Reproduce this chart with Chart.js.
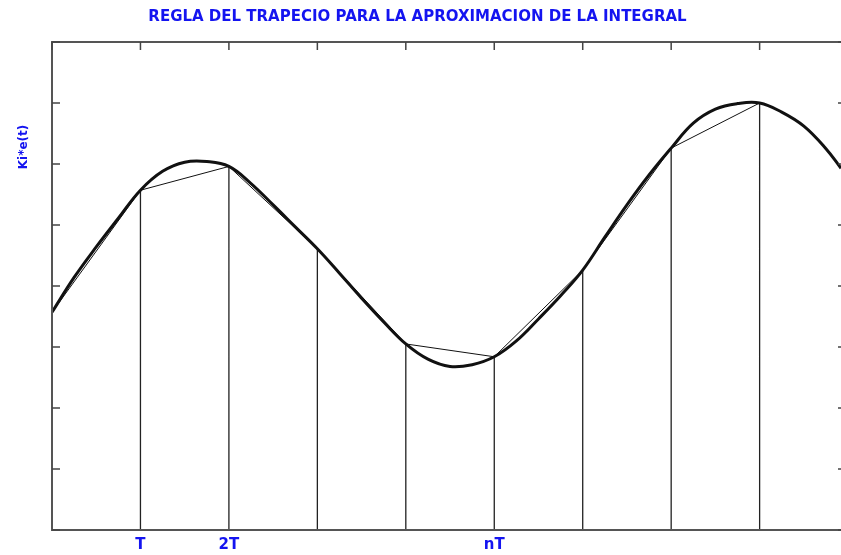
<!DOCTYPE html>
<html>
<head>
<meta charset="utf-8">
<script src="https://cdn.jsdelivr.net/npm/chart.js@4/dist/chart.umd.min.js"></script>
<style>
  html, body { margin: 0; padding: 0; background: #fff; overflow: hidden; }
  #myChart { display: block; }
</style>
</head>
<body>
<canvas id="myChart" width="841" height="555"></canvas>
<script>
const titleText = 'REGLA DEL TRAPECIO PARA LA APROXIMACION DE LA INTEGRAL';
const yTitle = 'Ki*e(t)';
const blue = '#1414f0';

// visible x range, in units of T (the plot box runs past the right edge of the picture)
const xMin = 0;
const xMax = 8.92;
const xTickValues = [0, 1, 2, 3, 4, 5, 6, 7, 8];

// the smooth curve
const curveX = [0, 0.25, 0.5, 0.75, 1, 1.25, 1.5, 1.75, 2, 2.25, 2.5, 2.75, 3, 3.25, 3.5, 3.75, 4,
                4.25, 4.5, 4.75, 5, 5.25, 5.5, 5.75, 6, 6.25, 6.5, 6.75, 7, 7.25, 7.5, 7.75, 8,
                8.25, 8.5, 8.75, 8.92];
const curveY = [3.57, 4.14, 4.64, 5.11, 5.57, 5.88, 6.03, 6.04, 5.96, 5.68, 5.33, 4.97, 4.61, 4.21, 3.80, 3.41, 3.05,
                2.80, 2.68, 2.71, 2.84, 3.10, 3.46, 3.84, 4.26, 4.80, 5.33, 5.82, 6.26, 6.67, 6.90, 6.99, 7.00,
                6.85, 6.62, 6.25, 5.93];

// samples used by the trapezoid rule
const sampleX = [0, 1, 2, 3, 4, 5, 6, 7, 8];
const sampleY = [3.57, 5.57, 5.96, 4.61, 3.05, 2.84, 4.26, 6.26, 7.00];

// bottom tick labels
const labelPositions = [1, 2, 5];
const labelTexts = ['T', '2T', 'nT'];

const curveData = curveX.map((x, i) => ({x: x, y: curveY[i]}));
const chordData = sampleX.map((x, i) => ({x: x, y: sampleY[i]}));
const stemData = [];
sampleX.forEach((x, i) => {
    if (x === 0) return;
    stemData.push({x: x, y: 0}, {x: x, y: sampleY[i]}, {x: x, y: null});
});

const framePlugin = {
    id: 'frame',
    afterDatasetsDraw(chart) {
        const {ctx, chartArea: a, scales: {x, y}} = chart;
        ctx.save();
        ctx.strokeStyle = '#555';
        ctx.lineWidth = 2;
        ctx.beginPath();
        ctx.moveTo(a.right + 2, a.top);
        ctx.lineTo(a.left, a.top);
        ctx.lineTo(a.left, a.bottom);
        ctx.lineTo(a.right + 2, a.bottom);
        ctx.stroke();
        ctx.strokeStyle = '#444';
        ctx.lineWidth = 1.5;
        ctx.beginPath();
        x.ticks.forEach(t => {
            const px = x.getPixelForValue(t.value);
            ctx.moveTo(px, a.top);
            ctx.lineTo(px, a.top + 8);
        });
        y.ticks.forEach(t => {
            const py = y.getPixelForValue(t.value);
            ctx.moveTo(a.left, py);
            ctx.lineTo(a.left + 8, py);
            // only the tips of the right-hand ticks are inside the picture
            ctx.moveTo(a.right, py);
            ctx.lineTo(a.right - 3, py);
        });
        ctx.stroke();
        // y axis title sits high on the left, not centred
        ctx.translate(a.left - 28, a.top + 105);
        ctx.rotate(-Math.PI / 2);
        ctx.fillStyle = blue;
        ctx.font = 'bold 12px "DejaVu Sans"';
        ctx.textAlign = 'center';
        ctx.textBaseline = 'middle';
        ctx.fillText(yTitle, 0, 0);
        ctx.restore();
    }
};

const ctx = document.getElementById('myChart').getContext('2d');
const chart = new Chart(ctx, {
    type: 'line',
    data: {
        datasets: [{
            label: 'curve',
            data: curveData,
            borderColor: '#111',
            borderWidth: 3,
            pointRadius: 0,
            tension: 0.4,
        }, {
            label: 'chords',
            data: chordData,
            borderColor: '#111',
            borderWidth: 1,
            pointRadius: 0,
            tension: 0,
        }, {
            label: 'stems',
            data: stemData,
            borderColor: '#222',
            borderWidth: 1.3,
            pointRadius: 0,
            tension: 0,
            spanGaps: false,
        }],
    },
    options: {
        responsive: false,
        animation: false,
        devicePixelRatio: 1,
        layout: { autoPadding: false, padding: { left: -6, right: 0, top: 0, bottom: 1 } },
        plugins: {
            legend: { display: false },
            tooltip: { enabled: false },
            title: {
                display: true,
                text: titleText,
                color: blue,
                font: { family: '"DejaVu Sans"', size: 15, weight: 'bold', lineHeight: 1.2 },
                padding: { top: 8, bottom: 16 },
            },
        },
        scales: {
            x: {
                type: 'linear',
                min: xMin,
                max: xMax,
                border: { display: false },
                grid: { display: false, drawTicks: false },
                afterBuildTicks: (scale) => {
                    scale.ticks = xTickValues.map(v => ({value: v}));
                },
                ticks: {
                    autoSkip: false,
                    maxRotation: 0,
                    padding: 0,
                    color: blue,
                    font: { family: '"DejaVu Sans"', size: 15, weight: 'bold', lineHeight: 2 },
                    callback: (v) => {
                        const i = labelPositions.indexOf(v);
                        return i >= 0 ? labelTexts[i] : '';
                    },
                },
                afterFit: (scale) => { scale.height = 24; },
            },
            y: {
                type: 'linear',
                min: 0,
                max: 8,
                border: { display: false },
                grid: { display: false, drawTicks: false },
                ticks: { stepSize: 1, display: false },
                afterFit: (scale) => { scale.width = 58; },
            },
        },
    },
    plugins: [framePlugin],
});
</script>
</body>
</html>
